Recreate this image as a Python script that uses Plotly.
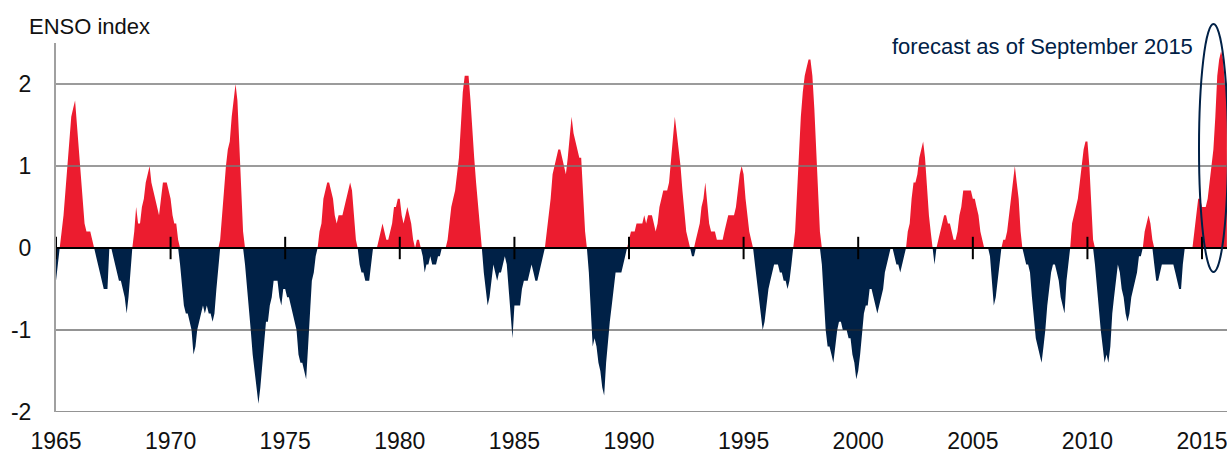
import pandas as pd
import plotly.graph_objects as go

# Monthly ENSO index, Jan 1965 onward
oni_1965_1969 = [
    -0.4, -0.2, 0.0, 0.2, 0.4, 0.7, 1.0, 1.3, 1.6, 1.7, 1.8, 1.5,
    1.2, 0.9, 0.6, 0.3, 0.2, 0.2, 0.2, 0.1, 0.0, -0.1, -0.2, -0.3,
    -0.4, -0.5, -0.5, -0.5, 0.0, 0.0, -0.1, -0.2, -0.3, -0.4, -0.4, -0.5,
    -0.6, -0.8, -0.6, -0.3, 0.0, 0.2, 0.5, 0.3, 0.3, 0.5, 0.6, 0.8,
    0.9, 1.0, 0.8, 0.7, 0.6, 0.5, 0.4, 0.6, 0.8, 0.8, 0.8, 0.7,
]
oni_1970s = [
    0.6, 0.4, 0.3, 0.3, 0.1, -0.2, -0.5, -0.7, -0.8, -0.8, -0.9, -1.0,
    -1.3, -1.2, -1.0, -0.9, -0.8, -0.7, -0.8, -0.7, -0.8, -0.8, -0.9, -0.8,
    -0.5, -0.2, 0.1, 0.4, 0.8, 1.0, 1.2, 1.3, 1.6, 1.8, 2.0, 1.8,
    1.3, 0.8, 0.2, -0.2, -0.5, -0.8, -1.0, -1.3, -1.5, -1.7, -1.9, -1.7,
    -1.4, -1.1, -0.9, -0.9, -0.7, -0.6, -0.4, -0.4, -0.4, -0.6, -0.7, -0.5,
    -0.5, -0.6, -0.6, -0.7, -0.8, -0.9, -1.0, -1.3, -1.4, -1.4, -1.5, -1.6,
    -1.2, -0.7, -0.4, -0.3, -0.1, 0.0, 0.2, 0.3, 0.6, 0.7, 0.8, 0.8,
    0.7, 0.6, 0.4, 0.3, 0.4, 0.4, 0.4, 0.5, 0.6, 0.7, 0.8, 0.7,
    0.4, 0.1, 0.0, -0.2, -0.3, -0.3, -0.4, -0.4, -0.4, -0.2, 0.0, 0.0,
    0.0, 0.1, 0.2, 0.3, 0.2, 0.1, 0.1, 0.2, 0.3, 0.5, 0.5, 0.6,
]
oni_1980s = [
    0.6, 0.4, 0.3, 0.4, 0.5, 0.4, 0.3, 0.1, 0.0, 0.1, 0.1, 0.0,
    -0.1, -0.3, -0.2, -0.2, -0.1, -0.2, -0.2, -0.2, -0.1, -0.1, 0.0, 0.0,
    0.0, 0.1, 0.3, 0.5, 0.6, 0.7, 0.9, 1.1, 1.5, 1.9, 2.1, 2.1,
    2.1, 1.8, 1.4, 1.1, 0.8, 0.5, 0.2, 0.0, -0.3, -0.5, -0.7, -0.6,
    -0.4, -0.2, -0.3, -0.4, -0.3, -0.3, -0.2, -0.1, -0.2, -0.5, -0.8, -1.1,
    -0.7, -0.7, -0.7, -0.7, -0.5, -0.4, -0.4, -0.4, -0.3, -0.2, -0.3, -0.4,
    -0.4, -0.3, -0.2, -0.1, 0.0, 0.2, 0.4, 0.6, 0.9, 1.0, 1.1, 1.2,
    1.2, 1.1, 1.0, 0.9, 1.1, 1.4, 1.6, 1.4, 1.3, 1.2, 1.1, 1.1,
    0.6, 0.2, 0.0, -0.3, -0.7, -1.2, -1.1, -1.2, -1.4, -1.5, -1.7, -1.8,
    -1.4, -1.1, -0.9, -0.7, -0.5, -0.3, -0.3, -0.3, -0.3, -0.2, -0.1, 0.0,
]
oni_1990s = [
    0.1, 0.2, 0.2, 0.2, 0.3, 0.3, 0.3, 0.3, 0.4, 0.3, 0.4, 0.4,
    0.4, 0.3, 0.2, 0.3, 0.5, 0.6, 0.7, 0.7, 0.7, 0.8, 1.1, 1.4,
    1.6, 1.4, 1.2, 1.0, 0.7, 0.4, 0.2, 0.1, 0.0, -0.1, -0.1, 0.1,
    0.2, 0.3, 0.5, 0.6, 0.8, 0.5, 0.3, 0.2, 0.2, 0.2, 0.1, 0.1,
    0.1, 0.1, 0.2, 0.3, 0.4, 0.4, 0.4, 0.4, 0.5, 0.7, 0.9, 1.0,
    0.9, 0.6, 0.4, 0.2, 0.1, 0.0, -0.2, -0.4, -0.6, -0.8, -1.0, -0.9,
    -0.7, -0.5, -0.4, -0.3, -0.2, -0.2, -0.2, -0.3, -0.3, -0.4, -0.4, -0.5,
    -0.4, -0.2, 0.0, 0.2, 0.7, 1.2, 1.6, 1.9, 2.1, 2.2, 2.3, 2.3,
    2.1, 1.7, 1.2, 0.7, 0.2, -0.2, -0.6, -1.0, -1.2, -1.2, -1.3, -1.4,
    -1.2, -1.0, -0.9, -0.9, -1.0, -1.0, -1.0, -1.1, -1.1, -1.3, -1.4, -1.6,
]
oni_2000s = [
    -1.5, -1.3, -1.0, -0.8, -0.7, -0.7, -0.5, -0.5, -0.6, -0.7, -0.8, -0.7,
    -0.6, -0.5, -0.3, -0.2, -0.1, 0.0, 0.0, -0.1, -0.2, -0.2, -0.3, -0.2,
    -0.1, 0.0, 0.2, 0.3, 0.6, 0.8, 0.8, 0.9, 1.1, 1.2, 1.3, 1.1,
    0.7, 0.4, 0.2, 0.0, -0.2, 0.0, 0.1, 0.2, 0.3, 0.4, 0.4, 0.3,
    0.3, 0.2, 0.1, 0.1, 0.2, 0.4, 0.5, 0.7, 0.7, 0.7, 0.7, 0.7,
    0.6, 0.6, 0.5, 0.4, 0.2, 0.1, 0.0, 0.0, 0.0, -0.1, -0.4, -0.7,
    -0.6, -0.4, -0.2, 0.0, 0.1, 0.1, 0.2, 0.4, 0.6, 0.8, 1.0, 0.8,
    0.6, 0.2, 0.0, -0.1, -0.2, -0.2, -0.3, -0.6, -0.9, -1.1, -1.2, -1.3,
    -1.4, -1.2, -1.0, -0.7, -0.5, -0.3, -0.2, -0.2, -0.3, -0.4, -0.6, -0.7,
    -0.8, -0.4, -0.2, 0.0, 0.3, 0.4, 0.5, 0.6, 0.8, 1.0, 1.2, 1.3,
]
# 2010 onward (incl. forecast as of September 2015)
oni_2010s = [
    1.3, 1.0, 0.5, 0.1, -0.2, -0.5, -0.7, -1.0, -1.2, -1.4, -1.3, -1.4,
    -1.2, -0.8, -0.6, -0.4, -0.2, -0.3, -0.5, -0.6, -0.8, -0.9, -0.8, -0.6,
    -0.5, -0.4, -0.3, -0.1, -0.1, 0.0, 0.2, 0.3, 0.4, 0.3, 0.1, -0.2,
    -0.4, -0.4, -0.3, -0.2, -0.2, -0.2, -0.2, -0.2, -0.2, -0.2, -0.3, -0.4,
    -0.5, -0.5, -0.2, 0.0, 0.0, 0.0, 0.0, 0.0, 0.2, 0.4, 0.6, 0.6,
    0.5, 0.5, 0.5, 0.6, 0.8, 1.0, 1.2, 1.6, 2.1, 2.3, 2.4, 2.3,
    2.0, 1.9,
]
tick_years = [1965, 1970, 1975, 1980, 1985, 1990, 1995, 2000, 2005, 2010, 2015]
y_ticks = [-2, -1, 0, 1, 2]

values = oni_1965_1969 + oni_1970s + oni_1980s + oni_1990s + oni_2000s + oni_2010s
dates = pd.date_range("1965-01-01", periods=len(values), freq="MS")
pos = [max(v, 0.0) for v in values]
neg = [min(v, 0.0) for v in values]

RED = "#EC1C2F"
NAVY = "#002147"
FONT = "Liberation Sans, Arial, sans-serif"

fig = go.Figure()
fig.add_trace(go.Scatter(x=dates, y=pos, fill="tozeroy", mode="lines",
                         line=dict(width=0, color=RED), fillcolor=RED,
                         hoverinfo="skip", showlegend=False))
fig.add_trace(go.Scatter(x=dates, y=neg, fill="tozeroy", mode="lines",
                         line=dict(width=0, color=NAVY), fillcolor=NAVY,
                         hoverinfo="skip", showlegend=False))
tick_dates = [pd.Timestamp(f"{y}-01-01") for y in tick_years]
fig.add_trace(go.Scatter(x=tick_dates, y=[0] * len(tick_dates), mode="markers",
                         marker=dict(symbol="line-ns", size=16,
                                     line=dict(width=2, color="black")),
                         cliponaxis=False, hoverinfo="skip", showlegend=False))

# horizontal reference lines drawn above the fills
for yv in y_ticks:
    if yv == 0:
        col, w = "black", 2.2
    elif yv > 0:
        col, w = "#7a7a7a", 1.6
    else:
        col, w = "#2a2a2a", 1.2
    fig.add_shape(type="line", xref="paper", x0=0, x1=1, yref="y", y0=yv, y1=yv,
                  line=dict(color=col, width=w), layer="above")

# forecast ellipse
fig.add_shape(type="circle", xref="paper", yref="paper",
              x0=(1199 - 56) / 1171, x1=(1228 - 56) / 1171,
              y0=(412 - 272) / 369, y1=(412 - 24) / 369,
              line=dict(color=NAVY, width=2), layer="above")

fig.add_annotation(text="ENSO index", xref="paper", yref="paper",
                   x=(27 - 56) / 1171, y=(412 - 27) / 369, xanchor="left", yanchor="middle",
                   showarrow=False, font=dict(family=FONT, size=22, color="#111111"))
fig.add_annotation(text="forecast as of September 2015", xref="paper", yref="paper",
                   x=(1195 - 56) / 1171, y=(412 - 46) / 369, xanchor="right", yanchor="middle",
                   showarrow=False, font=dict(family=FONT, size=22, color=NAVY))

fig.update_layout(
    width=1227, height=455,
    margin=dict(l=56, r=0, t=43, b=43),
    plot_bgcolor="white", paper_bgcolor="white",
    font=dict(family=FONT, size=23, color="#111111"),
    xaxis=dict(range=[pd.Timestamp("1965-01-01"), pd.Timestamp("2016-02-03")],
               tickvals=tick_dates, ticktext=[str(y) for y in tick_years],
               showgrid=False, zeroline=False, showline=False, ticks="",
               ticklabelstandoff=13, ticklabeloverflow="allow", automargin=False),
    yaxis=dict(range=[-2, 2.5], tickvals=y_ticks, ticktext=[str(v) for v in y_ticks],
               showgrid=False, zeroline=False, showline=True, linecolor="#a0a0a0",
               linewidth=2, ticks="", ticklabelstandoff=18, automargin=False),
)

fig.write_html("out.html", config={"displayModeBar": False},
               post_script="document.body.style.margin='0';document.body.style.overflow='hidden';")
